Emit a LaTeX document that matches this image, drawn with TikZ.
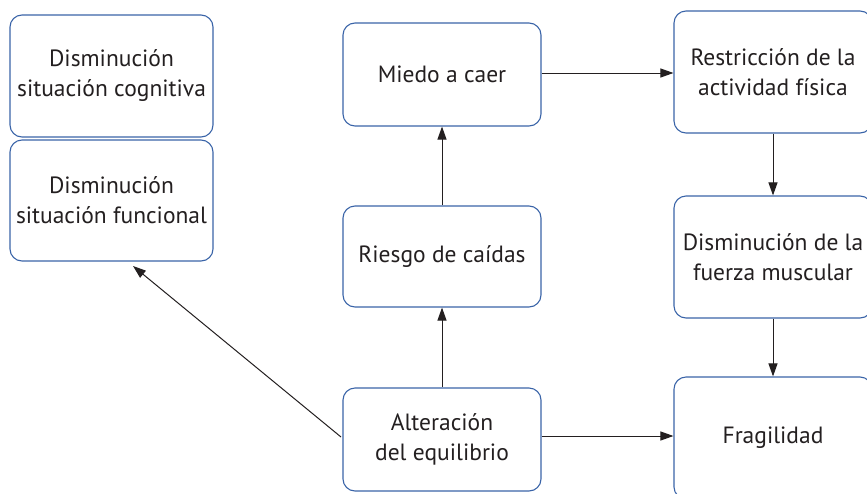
\documentclass[tikz,border=0pt]{standalone}
\usepackage{fontspec}
\setmainfont{PT Sans}
\usetikzlibrary{arrows.meta}
\definecolor{boxblue}{HTML}{3A64A8}
\definecolor{txt}{HTML}{231F20}
\begin{document}
\begin{tikzpicture}[x=1pt,y=-1pt,
  box/.style={draw=boxblue, line width=1.1pt, rounded corners=12pt, align=center,
    text=txt, font=\fontsize{23.5}{30}\selectfont, inner sep=0pt},
  arr/.style={draw=txt, line width=1pt, -{Triangle[length=13pt,width=9pt]}}]
\useasboundingbox (0,0) rectangle (867,493);
\clip (0,0) rectangle (867,493);
\node[box, minimum width=203pt, minimum height=122pt] (cog) at (111.5,76) {Disminución\\situación cognitiva};
\node[box, minimum width=203pt, minimum height=121pt] (fun) at (111.5,200.5) {Disminución\\situación funcional};
\node[box, minimum width=198pt, minimum height=103pt] (miedo) at (442,74.5) {Miedo a caer};
\node[box, minimum width=198pt, minimum height=101pt] (riesgo) at (442,256.5) {Riesgo de caídas};
\node[box, minimum width=198pt, minimum height=103pt] (alt) at (442,439.5) {Alteración\\del equilibrio};
\node[box, minimum width=198pt, minimum height=122pt] (restr) at (773,72) {Restricción de la\\actividad física};
\node[box, minimum width=198pt, minimum height=122pt] (fuerza) at (773,257) {Disminución de la\\fuerza muscular};
\node[box, minimum width=198pt, minimum height=122pt] (frag) at (773,438) {Fragilidad};
\coordinate (tip) at (133,266);
\coordinate (altw) at (341,437);
\draw[arr] (miedo.east |- 0,73) -- (restr.west |- 0,73);
\draw[arr] (alt.east |- 0,436) -- (frag.west |- 0,436);
\draw[arr] (riesgo.north) -- (miedo.south);
\draw[arr] (alt.north) -- (riesgo.south);
\draw[arr] (restr.south) -- (fuerza.north);
\draw[arr] (fuerza.south) -- (frag.north);
\draw[arr] (altw) -- (tip);
\end{tikzpicture}
\end{document}
